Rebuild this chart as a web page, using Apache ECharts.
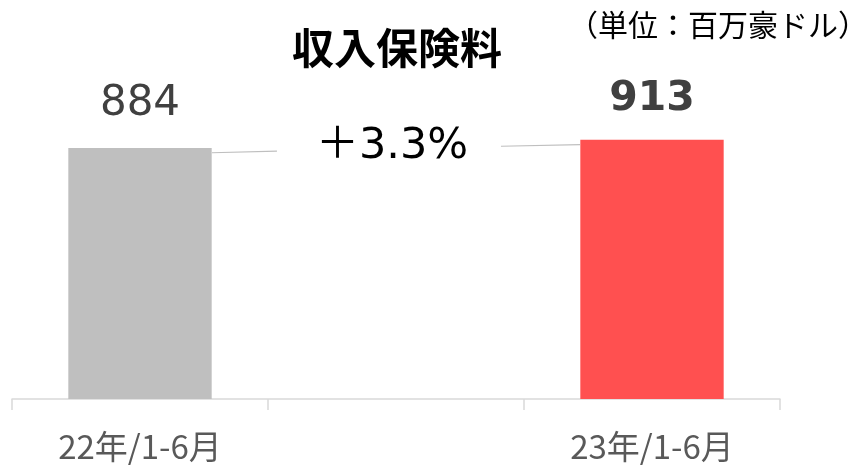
<!DOCTYPE html>
<html>
<head>
<meta charset="utf-8">
<script src="https://cdn.jsdelivr.net/npm/echarts@6/dist/echarts.min.js"></script>
<style>html,body{margin:0;padding:0;background:#fff}#c{width:854px;height:465px}</style>
</head>
<body>
<div id="c"></div>
<script>
const categories = ['22年/1-6月', '', '23年/1-6月'];
const premiums = [884, null, 913];
const barColors = ['#BFBFBF', '#BFBFBF', '#FF5050'];
const titleText = '収入保険料';
const unitText = '（単位：百万豪ドル）';
const growthText = '＋3.3%';
// connector line points [x position in category units, value]
const connectorLeft = [[0.781, 867], [1.035, 873]];
const connectorRight = [[1.910, 890], [2.219, 896]];

const chart = echarts.init(document.getElementById('c'), null, {renderer: 'canvas'});
const jp = '"Noto Sans CJK JP", sans-serif';
const num = '"DejaVu Sans", "Noto Sans CJK JP", sans-serif';

chart.setOption({
  animation: false,
  backgroundColor: '#ffffff',
  grid: {left: 12, right: 74, top: 115, bottom: 66, containLabel: false},
  xAxis: [{
    type: 'category',
    data: categories,
    axisLine: {lineStyle: {color: '#D9D9D9', width: 1.5}},
    axisTick: {show: true, length: 11, lineStyle: {color: '#D9D9D9', width: 1.5}},
    axisLabel: {color: '#595959', fontSize: 33, fontFamily: jp, margin: 31},
    splitLine: {show: false}
  }, {
    type: 'value', min: 0, max: 3, show: false
  }],
  yAxis: {
    type: 'value', min: 0, max: 1000, show: false, splitLine: {show: false}
  },
  series: [{
    type: 'bar',
    xAxisIndex: 0,
    barWidth: '56%',
    data: premiums.map((v, i) => ({
      value: v,
      itemStyle: {color: barColors[i]},
      label: {
        show: v !== null,
        position: 'top',
        distance: i === 2 ? 20 : 23,
        fontFamily: num,
        fontSize: i === 2 ? 41 : 42,
        fontWeight: i === 2 ? 'bold' : 'normal',
        color: '#404040'
      }
    }))
  }, {
    type: 'line',
    xAxisIndex: 1,
    symbol: 'none',
    silent: true,
    lineStyle: {color: '#BFBFBF', width: 1.2},
    data: connectorLeft.concat([[null, null]], connectorRight),
    connectNulls: false
  }],
  graphic: [{
    type: 'text',
    style: {text: titleText, x: 397, y: 48, align: 'center', verticalAlign: 'middle',
      fontSize: 42, fontWeight: 'bold', fontFamily: jp, fill: '#000000'}
  }, {
    type: 'text',
    style: {text: unitText, x: 568, y: 25, align: 'left', verticalAlign: 'middle',
      fontSize: 30, fontFamily: jp, fill: '#000000'}
  }, {
    type: 'text',
    style: {text: growthText, x: 392, y: 147, align: 'center', verticalAlign: 'middle',
      fontSize: 43, fontFamily: num, fill: '#000000'}
  }]
});
</script>
</body>
</html>
